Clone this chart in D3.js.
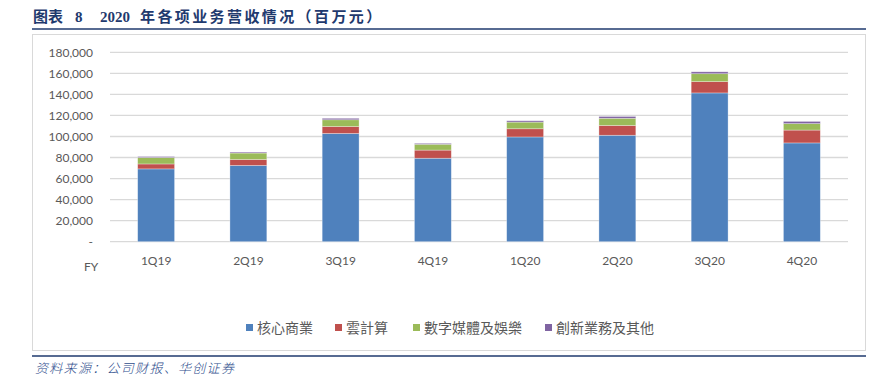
<!DOCTYPE html>
<html><head><meta charset="utf-8">
<script src="https://cdn.jsdelivr.net/npm/d3@7/dist/d3.min.js"></script>
<style>body{margin:0;background:#fff;}svg{display:block;}</style>
</head><body>
<script>
const categories = ["1Q19","2Q19","3Q19","4Q19","1Q20","2Q20","3Q20","4Q20"];
const seriesNames = ["核心商業","雲計算","數字媒體及娛樂","創新業務及其他"];
const coreCommerce = [69188,72475,102843,79334,99544,101166,141386,93865];
const cloud = [4698,5667,6598,7730,7787,9291,10722,12225];
const digitalMedia = [6089,6108,6446,5566,6330,6833,7550,6123];
const innovation = [945,898,1391,868,1263,1727,1798,2101];
const yTicks = [0,20000,40000,60000,80000,100000,120000,140000,160000,180000];
const colors = ["#4F81BD","#C0504D","#9BBB59","#8064A2"];

const W=881,H=376;
const svg=d3.select("body").append("svg").attr("width",W).attr("height",H);

// title
const navy="#1f3a6e";
const tf="'Liberation Serif','Noto Sans CJK SC'";
function tt(x,s,ls){
  svg.append("text").attr("x",x).attr("y",22).attr("fill",navy)
    .attr("font-family",tf).attr("font-weight","bold").attr("font-size",15)
    .attr("letter-spacing",ls).text(s);
}
tt(33,"图表",0);
tt(75,"8",0);
tt(100,"2020",0);
tt(140,"年各项业务营收情况（百万元）",2.4);
svg.append("line").attr("x1",32).attr("x2",866).attr("y1",29).attr("y2",29).attr("stroke",navy).attr("stroke-width",1.5);

// chart frame
svg.append("rect").attr("x",32.5).attr("y",34.5).attr("width",833).attr("height",316).attr("fill","none").attr("stroke","#d9d9d9");

// footer
svg.append("line").attr("x1",32).attr("x2",866).attr("y1",356).attr("y2",356).attr("stroke",navy).attr("stroke-width",1.5);
svg.append("text").attr("x",35).attr("y",373).attr("fill","#2e4d8c")
  .attr("font-family","'Noto Sans CJK SC'").attr("font-style","italic").attr("font-weight",300).attr("font-size",13).attr("letter-spacing",1.3)
  .text("资料来源：公司财报、华创证券");

const x=d3.scaleBand().domain(categories).range([110,848]).paddingInner(0.6).paddingOuter(0.3);
const y=d3.scaleLinear().domain([0,180000]).range([241.7,52.3]);

// gridlines
svg.append("g").selectAll("line").data(yTicks).join("line")
  .attr("x1",110).attr("x2",848).attr("y1",d=>y(d)).attr("y2",d=>y(d))
  .attr("stroke","#d9d9d9").attr("stroke-width",1.3);

// y axis
const yAxis=d3.axisLeft(y).tickValues(yTicks).tickSize(0).tickPadding(0)
  .tickFormat(d=>d===0?"-":d3.format(",")(d));
const ga=svg.append("g").attr("transform","translate(93,0)").call(yAxis);
ga.select(".domain").remove();
ga.selectAll("text").attr("font-family","Lato,'Open Sans',sans-serif").attr("font-size",12).attr("fill","#595959");

// x axis
const xAxis=d3.axisBottom(x).tickSize(0).tickPadding(0);
const gx=svg.append("g").attr("transform","translate(0,256)").call(xAxis);
gx.select(".domain").remove();
gx.selectAll("text").attr("font-family","Lato,'Open Sans',sans-serif").attr("font-size",12).attr("fill","#595959");
svg.append("text").attr("x",84).attr("y",271).attr("font-family","Lato,'Open Sans',sans-serif").attr("font-size",12).attr("fill","#595959").text("FY");

// stacked bars
const rows=categories.map((c,i)=>({cat:c,s0:coreCommerce[i],s1:cloud[i],s2:digitalMedia[i],s3:innovation[i]}));
const stack=d3.stack().keys(["s0","s1","s2","s3"])(rows);
svg.append("g").selectAll("g").data(stack).join("g").attr("fill",(d,i)=>colors[i])
  .selectAll("rect").data(d=>d).join("rect")
  .attr("x",d=>x(d.data.cat)).attr("width",x.bandwidth())
  .attr("y",d=>y(d[1])).attr("height",d=>y(d[0])-y(d[1]))
  .attr("stroke","rgba(255,255,255,0.45)").attr("stroke-width",0.7);

// legend
const legX=[246,335,413,545];
const lg=svg.append("g");
seriesNames.forEach((n,i)=>{
  lg.append("rect").attr("x",legX[i]).attr("y",324).attr("width",7).attr("height",7).attr("fill",colors[i]);
  lg.append("text").attr("x",legX[i]+11).attr("y",333).attr("font-family","'Noto Sans CJK TC'").attr("font-size",14)
    .attr("fill","#595959").text(n);
});
</script>
</body></html>
